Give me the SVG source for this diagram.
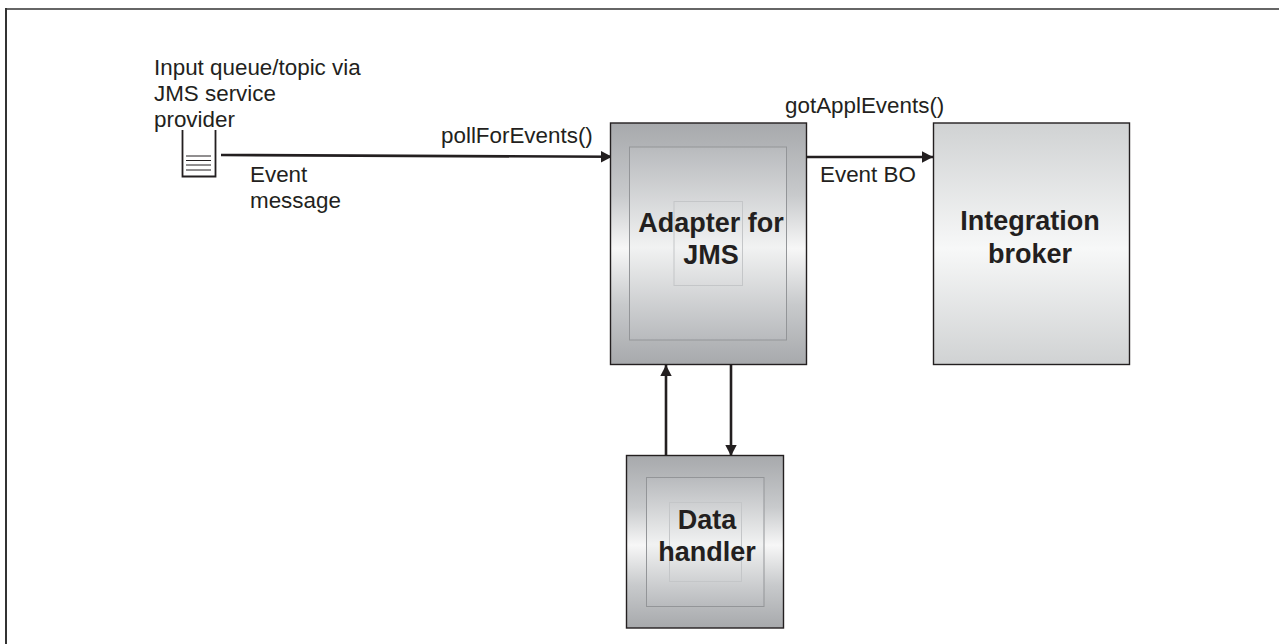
<svg xmlns="http://www.w3.org/2000/svg" width="1279" height="644" viewBox="0 0 1279 644">
<defs>
<linearGradient id="g1" x1="0" y1="0" x2="0" y2="1"><stop offset="0" stop-color="#a7a9ac"/><stop offset="0.3" stop-color="#c8cacc"/><stop offset="0.52" stop-color="#f7f7f7"/><stop offset="0.75" stop-color="#c8cacc"/><stop offset="1" stop-color="#a7a9ac"/></linearGradient>
<linearGradient id="g2" x1="0" y1="0" x2="0" y2="1"><stop offset="0" stop-color="#d0d2d3"/><stop offset="0.52" stop-color="#f7f8f8"/><stop offset="1" stop-color="#d0d2d3"/></linearGradient>
<linearGradient id="g3" x1="0" y1="0" x2="0" y2="1"><stop offset="0" stop-color="#b8babd"/><stop offset="0.52" stop-color="#f1f2f2"/><stop offset="1" stop-color="#b8babd"/></linearGradient>
<marker id="a" markerUnits="userSpaceOnUse" markerWidth="12" markerHeight="12" refX="11" refY="6" orient="auto"><path d="M0 0.300L11 6L0 11.700Z" fill="#231f20"/></marker>
</defs>
<style>
text{font-family:"Liberation Sans",Arial,sans-serif;fill:#231f20;font-size:22.4px}
.b{font-weight:bold;font-size:27px;text-anchor:middle}
.o{stroke:#231f20;stroke-width:1.400}
.m{fill:url(#g3);stroke:#939598;stroke-width:1}
.i{fill:none;stroke:#c4c6c8;stroke-width:1}
.c{fill:none;stroke:#231f20;stroke-width:2.600}
.q{fill:none;stroke:#231f20;stroke-width:1}
</style>
<path d="M5 9H1279" fill="none" stroke="#666" stroke-width="2"/>
<path d="M6 8V644" fill="none" stroke="#333" stroke-width="2"/>
<g id="connectors">
<path class="c" marker-end="url(#a)" d="M221 155L612 156.800"/>
<path class="c" marker-end="url(#a)" d="M807 157L933 157"/>
<path class="c" marker-end="url(#a)" d="M666 456V365"/>
<path class="c" marker-end="url(#a)" d="M731 365V456"/>
</g>
<g id="queue">
<path d="M182.500 130V176.500H215.500V130" fill="none" stroke="#231f20" stroke-width="1.800"/>
<path class="q" d="M186 156H211M186 160.500H211M186 165H211M186 170H211"/>
<text x="154" y="75">Input queue/topic via</text>
<text x="154" y="101">JMS service</text>
<text x="154" y="127">provider</text>
</g>
<g id="adapter">
<rect class="o" x="610.500" y="123" width="196" height="241.500" fill="url(#g1)"/>
<rect class="m" x="629.500" y="147" width="157" height="193"/>
<rect class="i" x="674" y="201.500" width="68.500" height="84"/>
<text class="b" x="711" y="232">Adapter for</text>
<text class="b" x="711" y="264">JMS</text>
</g>
<g id="broker">
<rect class="o" x="933.500" y="123" width="196" height="241.500" fill="url(#g2)"/>
<text class="b" x="1030" y="230">Integration</text>
<text class="b" x="1030" y="262.500">broker</text>
</g>
<g id="handler">
<rect class="o" x="626.500" y="455.500" width="157" height="172.500" fill="url(#g1)"/>
<rect class="m" x="646.500" y="477.500" width="117.500" height="129"/>
<rect class="i" x="669.500" y="502.500" width="72" height="79"/>
<text class="b" x="707" y="529">Data</text>
<text class="b" x="707" y="561">handler</text>
</g>
<text x="441" y="143">pollForEvents()</text>
<text x="785" y="113">gotApplEvents()</text>
<text x="820" y="182">Event BO</text>
<text x="250" y="182">Event</text>
<text x="250" y="208">message</text>
</svg>
